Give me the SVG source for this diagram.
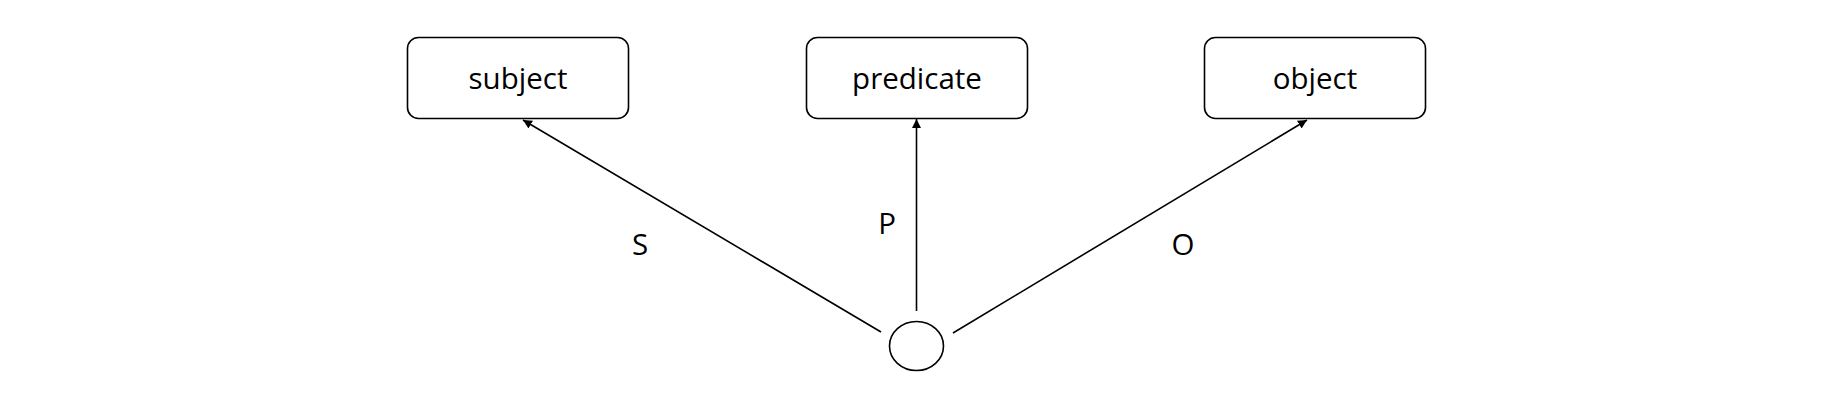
<svg xmlns="http://www.w3.org/2000/svg" width="1835" height="401" viewBox="0 0 1835 401">
<style>
.box{fill:#fff;stroke:#000;stroke-width:1.6}
.lbl{font-family:"Open Sans","Noto Sans",sans-serif;font-size:29.5px;fill:#000;text-anchor:middle}
.edge{stroke:#000;stroke-width:1.6;fill:none;marker-end:url(#arr)}
</style>
<defs>
<marker id="arr" viewBox="0 0 10 10" refX="10" refY="5" markerWidth="9" markerHeight="9" markerUnits="userSpaceOnUse" orient="auto">
<path d="M0,0 L10,5 L0,10 z" fill="#000"/>
</marker>
</defs>
<rect width="1835" height="401" fill="#fff"/>
<g id="subject"><rect class="box" x="407.5" y="37.5" width="221" height="81" rx="11"/><text class="lbl" x="518" y="89">subject</text></g>
<g id="predicate"><rect class="box" x="806.5" y="37.5" width="221" height="81" rx="11"/><text class="lbl" x="917" y="89">predicate</text></g>
<g id="object"><rect class="box" x="1204.5" y="37.5" width="221" height="81" rx="11"/><text class="lbl" x="1315" y="89">object</text></g>
<g id="blank"><ellipse class="box" cx="916.5" cy="346" rx="27" ry="24.5"/></g>
<g id="connectors">
<line class="edge" x1="881" y1="332" x2="523" y2="120"/>
<line class="edge" x1="916.5" y1="311" x2="916.5" y2="119"/>
<line class="edge" x1="953" y1="333" x2="1307" y2="120"/>
<text class="lbl" x="640" y="255">S</text>
<text class="lbl" x="887" y="234">P</text>
<text class="lbl" x="1183" y="255">O</text>
</g>
</svg>
